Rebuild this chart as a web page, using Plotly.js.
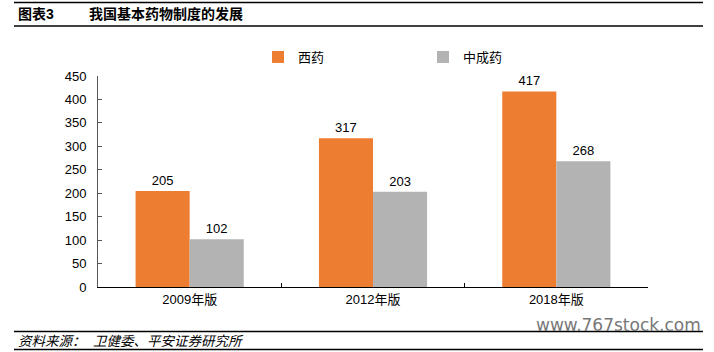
<!DOCTYPE html>
<html>
<head>
<meta charset="utf-8">
<script src="https://cdn.plot.ly/plotly-3.0.1.min.js"></script>
<style>html,body{margin:0;padding:0;background:#fff;}#chart{width:714px;height:352px;}</style>
</head>
<body>
<div id="chart"></div>
<script>
const categories = ['2009年版', '2012年版', '2018年版'];
const westernMedicine = [205, 317, 417];
const chineseMedicine = [102, 203, 268];
const seriesNames = ['西药', '中成药'];
const yTicks = [0, 50, 100, 150, 200, 250, 300, 350, 400, 450];

const FONT = 'Liberation Sans, Arial, Noto Sans CJK SC, sans-serif';
const L = 98, R = 648, T = 76, B = 287, W = 714, H = 352;
const pw = R - L, ph = B - T;
const px = x => (x - L) / pw;
const py = y => (B - y) / ph;

const traces = [
  {type: 'bar', name: seriesNames[0], x: categories, y: westernMedicine,
   marker: {color: '#ED7D31'}, text: westernMedicine.map(String), textposition: 'outside',
   textfont: {family: FONT, size: 13, color: '#000'}, cliponaxis: false, hoverinfo: 'none'},
  {type: 'bar', name: seriesNames[1], x: categories, y: chineseMedicine,
   marker: {color: '#B3B3B3'}, text: chineseMedicine.map(String), textposition: 'outside',
   textfont: {family: FONT, size: 13, color: '#000'}, cliponaxis: false, hoverinfo: 'none'}
];

const lineShape = (y) => ({type: 'line', xref: 'paper', yref: 'paper', x0: px(14), x1: px(703), y0: py(y), y1: py(y), line: {color: '#000', width: 1.5}});

const layout = {
  width: W, height: H,
  margin: {l: L, r: W - R, t: T, b: H - B, pad: 0},
  paper_bgcolor: '#fff', plot_bgcolor: '#fff',
  font: {family: FONT, size: 13, color: '#000'},
  barmode: 'group', bargap: 0.41, bargroupgap: 0,
  showlegend: true,
  legend: {orientation: 'h', x: px(258), xanchor: 'left', y: py(57), yanchor: 'middle',
           font: {family: FONT, size: 13, color: '#000'}, entrywidth: 120, entrywidthmode: 'pixels',
           itemwidth: 30, bgcolor: 'rgba(0,0,0,0)', traceorder: 'normal'},
  xaxis: {type: 'category', showline: true, linecolor: '#000', linewidth: 1, ticks: 'inside', ticklen: 4,
          tickcolor: '#000', tickson: 'boundaries', showgrid: false, zeroline: false,
          tickfont: {family: FONT, size: 13, color: '#000'}, fixedrange: true},
  yaxis: {range: [0, 450], tickvals: yTicks, ticktext: yTicks.map(String), showline: true, linecolor: '#555',
          linewidth: 1, ticks: 'inside', ticklen: 4, tickcolor: '#555', showgrid: false, zeroline: false,
          tickfont: {family: FONT, size: 13, color: '#000'}, ticklabelstandoff: 8, fixedrange: true},
  shapes: [lineShape(2.5), lineShape(26), lineShape(331.5), lineShape(349.5)],
  annotations: [
    {xref: 'paper', yref: 'paper', x: px(16), y: py(14), xanchor: 'left', yanchor: 'middle', showarrow: false,
     text: '<b>图表3</b>', font: {family: FONT, size: 14, color: '#000'}},
    {xref: 'paper', yref: 'paper', x: px(87), y: py(14), xanchor: 'left', yanchor: 'middle', showarrow: false,
     text: '<b>我国基本药物制度的发展</b>', font: {family: FONT, size: 14, color: '#000'}},
    {xref: 'paper', yref: 'paper', x: px(16), y: py(341), xanchor: 'left', yanchor: 'middle', showarrow: false,
     text: '<i>资料来源：  卫健委、平安证券研究所</i>', font: {family: FONT, size: 13.5, color: '#000'}},
    {xref: 'paper', yref: 'paper', x: px(703), y: py(325), xanchor: 'right', yanchor: 'middle', showarrow: false,
     text: 'www.767stock.com', font: {family: 'DejaVu Sans, sans-serif', size: 17, color: '#777'}}
  ]
};

Plotly.newPlot('chart', traces, layout, {displayModeBar: false, staticPlot: true});
</script>
</body>
</html>
